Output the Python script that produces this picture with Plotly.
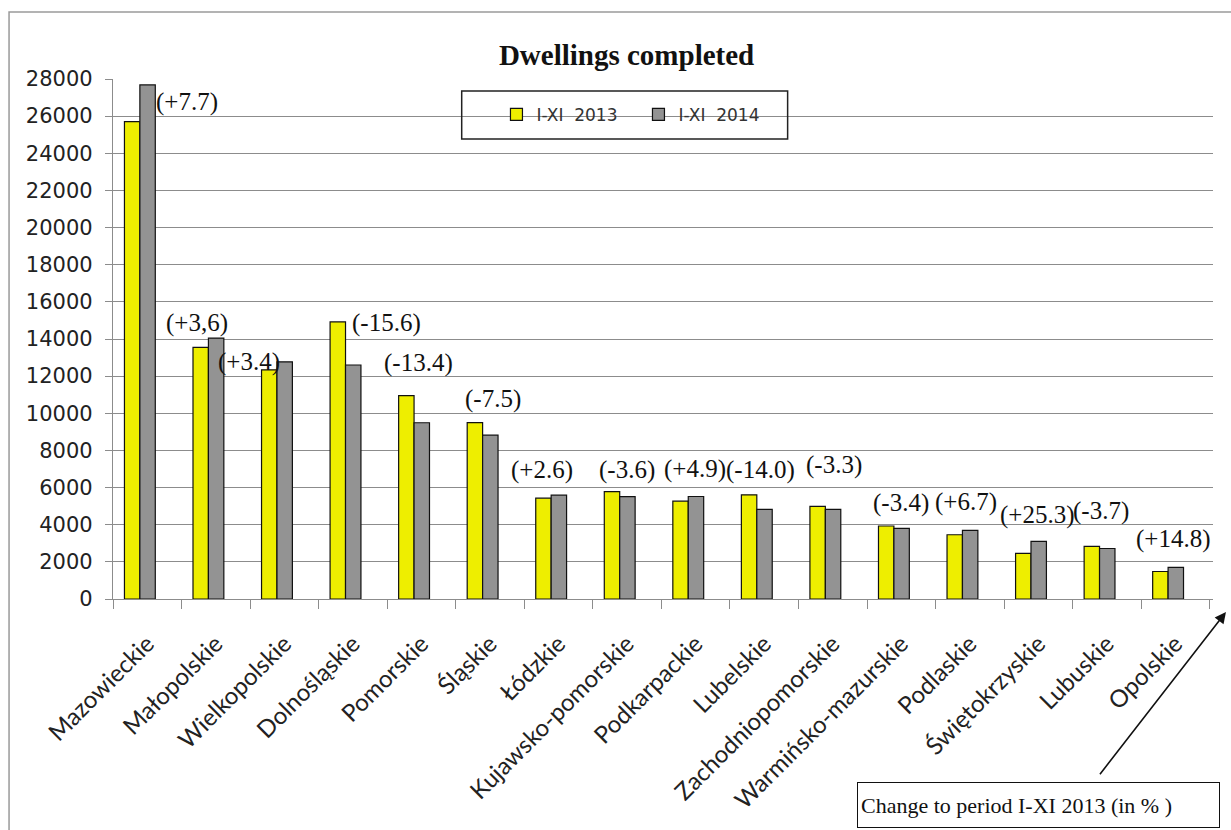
import plotly.graph_objects as go

categories = ["Mazowieckie", "Małopolskie", "Wielkopolskie", "Dolnośląskie", "Pomorskie",
              "Śląskie", "Łódzkie", "Kujawsko-pomorskie", "Podkarpackie", "Lubelskie",
              "Zachodniopomorskie", "Warmińsko-mazurskie", "Podlaskie", "Świętokrzyskie",
              "Lubuskie", "Opolskie"]
values_2013 = [25700, 13550, 12340, 14920, 10950, 9500, 5430, 5780, 5270, 5610,
               4990, 3930, 3460, 2460, 2830, 1480]
values_2014 = [27680, 14050, 12770, 12600, 9490, 8820, 5590, 5510, 5520, 4830,
               4830, 3800, 3690, 3100, 2720, 1700]
change_labels = ["(+7.7)", "(+3,6)", "(+3.4)", "(-15.6)", "(-13.4)", "(-7.5)", "(+2.6)",
                 "(-3.6)", "(+4.9)", "(-14.0)", "(-3.3)", "(-3.4)", "(+6.7)", "(+25.3)",
                 "(-3.7)", "(+14.8)"]
series_names = ["I-XI\u00a0\u00a02013", "I-XI\u00a0\u00a02014"]

# label placement offsets in pixels (style only)
label_dx = [40, -19, -35, 34, -3, 3, -17, 0, -1, -4, 1, 0, -4, -1, -6, -2]
label_dy = [-17, 15, 0, -1, 33, 24, 25, 22, 27, 25, 41, 23, 28, 26, 35, 28]

fig = go.Figure()
fig.add_trace(go.Bar(x=categories, y=values_2013, name=series_names[0],
                     marker=dict(color="#eeee00", line=dict(color="#111111", width=1.2)),
                     offset=-0.333, width=0.225))
fig.add_trace(go.Bar(x=categories, y=values_2014, name=series_names[1],
                     marker=dict(color="#939393", line=dict(color="#111111", width=1.2)),
                     offset=-0.108, width=0.225))

annotations = []
for c, a, b, t, dx, dy in zip(categories, values_2013, values_2014, change_labels, label_dx, label_dy):
    annotations.append(dict(x=c, y=max(a, b), xref="x", yref="y", text=t, showarrow=False,
                            xanchor="center", yanchor="middle", xshift=dx, yshift=dy,
                            font=dict(family="Liberation Serif", size=25, color="#111111")))

# footnote box
annotations.append(dict(x=0.8415, y=-0.3956, xref="paper", yref="paper",
                        text="Change to period I-XI 2013 (in % )", showarrow=False,
                        xanchor="center", yanchor="middle", align="left",
                        width=355, height=38, borderpad=3, bordercolor="#111111", borderwidth=1,
                        bgcolor="white",
                        font=dict(family="Liberation Serif", size=22, color="#111111")))
# arrow
annotations.append(dict(x=1.0118, y=-0.025, xref="paper", yref="paper", text=" ",
                        showarrow=True, axref="pixel", ayref="pixel", ax=-129, ay=166,
                        arrowhead=2, arrowsize=1.4, arrowwidth=1.6, arrowcolor="#111111",
                        standoff=0, startstandoff=0))

shapes = [
    # outer frame
    dict(type="rect", xref="paper", yref="paper", x0=-0.0945, x1=1.03, y0=-0.47, y1=1.1288,
         line=dict(color="#9a9a9a", width=1.5), fillcolor="rgba(0,0,0,0)", layer="below"),
    # legend box
    dict(type="rect", xref="paper", yref="paper", x0=0.3170, x1=0.6133, y0=0.8846, y1=0.9769,
         line=dict(color="#222222", width=1.5), fillcolor="rgba(0,0,0,0)", layer="above"),
]

fig.update_layout(
    width=1231, height=830,
    margin=dict(l=113, r=18, t=79, b=231, autoexpand=False),
    paper_bgcolor="white", plot_bgcolor="white",
    barmode="overlay",
    title=dict(text="<b>Dwellings completed</b>", x=0.509, xref="container", xanchor="center",
               y=1 - 55 / 830, yref="container", yanchor="middle",
               font=dict(family="Liberation Serif", size=29, color="#111111")),
    showlegend=True,
    legend=dict(orientation="h", x=0.3486, xanchor="left", y=0.931, yanchor="middle",
                bgcolor="rgba(0,0,0,0)", borderwidth=0, entrywidth=97, entrywidthmode="pixels",
                font=dict(family="DejaVu Sans", size=17, color="#333333")),
    annotations=annotations,
    shapes=shapes,
)
fig.update_xaxes(type="category", tickson="boundaries", ticks="outside", ticklen=9,
                 tickcolor="#8c8c8c", showline=True, linecolor="#8c8c8c", linewidth=1.3,
                 tickangle=-45, showgrid=False, automargin=False, ticklabelstandoff=20,
                 tickfont=dict(family="Lato", size=24, color="#222222"))
fig.update_yaxes(range=[0, 28000], dtick=2000, tick0=0, tickformat="d", ticks="outside", ticklen=7,
                 tickcolor="#8c8c8c", showline=True, linecolor="#8c8c8c", linewidth=1.3,
                 showgrid=True, gridcolor="#8c8c8c", gridwidth=1.3, zeroline=False,
                 ticklabelstandoff=8, automargin=False,
                 tickfont=dict(family="DejaVu Sans", size=21, color="#222222"))

fig.write_html("out.html", config={"displayModeBar": False},
               post_script="document.body.style.margin='0';document.body.style.overflow='hidden';")
